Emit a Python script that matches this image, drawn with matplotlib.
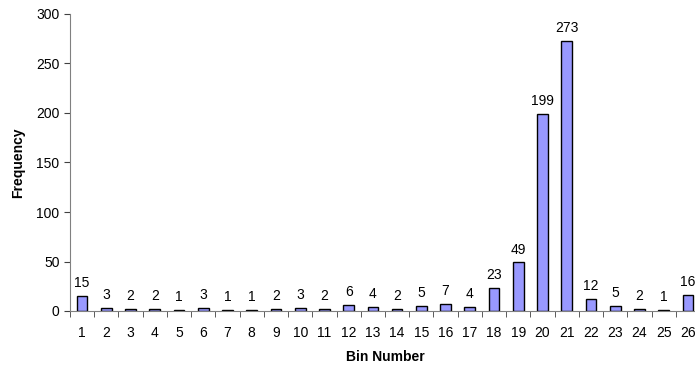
import matplotlib.pyplot as plt
import numpy as np

plt.rcParams['font.family'] = ['Liberation Sans', 'DejaVu Sans']

# Bin data
bins = list(range(1, 27))
freq = [15, 3, 2, 2, 1, 3, 1, 1, 2, 3, 2, 6, 4, 2, 5, 7, 4, 23, 49, 199, 273, 12, 5, 2, 1, 16]

fig = plt.figure(figsize=(6.95, 3.66), dpi=100)
ax = fig.add_axes([70 / 695, 55 / 366, 630 / 695, 297 / 366])

bars = ax.bar(bins, freq, width=0.44, color='#9999FF', edgecolor='black', linewidth=1.0)

# value labels above bars
for b, v in zip(bins, freq):
    ax.text(b, v + 6, str(v), ha='center', va='bottom', fontsize=10)

ax.set_xlim(0.5, 26.5)
ax.set_ylim(0, 300)
ax.set_yticks(range(0, 301, 50))
ax.set_xticks(bins)
ax.set_xticks(np.arange(0.5, 27, 1), minor=True)
ax.tick_params(axis='x', which='major', length=0, labelsize=10, pad=11)
ax.tick_params(axis='x', which='minor', length=4, direction='out', color='#404040')
ax.tick_params(axis='y', length=4, direction='out', labelsize=10, color='#404040')

for s in ['top', 'right']:
    ax.spines[s].set_visible(False)
for s in ['left', 'bottom']:
    ax.spines[s].set_color('#808080')

ax.set_xlabel('Bin Number', fontsize=10, fontweight='bold', labelpad=7)
ax.set_ylabel('Frequency', fontsize=10, fontweight='bold', labelpad=8)

fig.savefig('out.png', dpi=100)
